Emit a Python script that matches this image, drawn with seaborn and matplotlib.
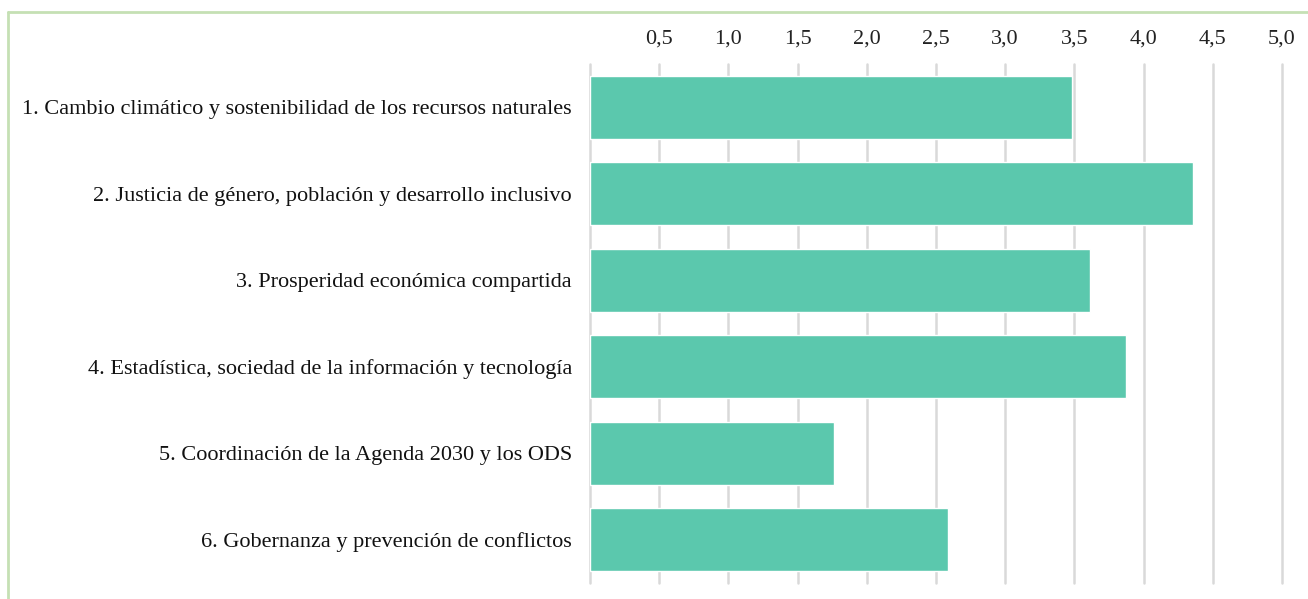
import matplotlib
matplotlib.use("Agg")
import matplotlib.pyplot as plt
import seaborn as sns
import pandas as pd
from matplotlib.lines import Line2D

categories = [
    "1. Cambio climático y sostenibilidad de los recursos naturales",
    "2. Justicia de género, población y desarrollo inclusivo",
    "3. Prosperidad económica compartida",
    "4. Estadística, sociedad de la información y tecnología",
    "5. Coordinación de la Agenda 2030 y los ODS",
    "6. Gobernanza y prevención de conflictos",
]
values = [3.48, 4.36, 3.61, 3.87, 1.76, 2.59]
tick_values = [0.5, 1.0, 1.5, 2.0, 2.5, 3.0, 3.5, 4.0, 4.5, 5.0]
tick_labels = ["0,5", "1,0", "1,5", "2,0", "2,5", "3,0", "3,5", "4,0", "4,5", "5,0"]

sns.set_theme(style="white")
plt.rcParams['font.family'] = ['Liberation Serif', 'DejaVu Serif']

df = pd.DataFrame({"cat": categories, "val": values})

fig = plt.figure(figsize=(13.08, 5.99), dpi=100)
ax = fig.add_axes([590/1308, 1-583/599, (1282-590)/1308, (583-64)/599])

sns.barplot(data=df, x="val", y="cat", orient="h", color="#5bc8ad",
            saturation=1, width=0.73, ax=ax, zorder=3)

ax.set_xlim(0, 5.0)
ax.set_ylim(5.5, -0.5)
ax.set_xticks([0.0] + tick_values)
ax.set_xticklabels([""] + tick_labels)
ax.xaxis.tick_top()
ax.tick_params(axis='x', length=0, pad=11, labelsize=16, colors="#222222")
ax.tick_params(axis='y', length=0, pad=13, labelsize=16, colors="#111111")
ax.grid(axis='x', color="#d9d9d9", linewidth=1.8, zorder=0)
for gl in ax.get_xgridlines():
    gl.set_clip_on(False)
ax.set_axisbelow(True)
for s in ax.spines.values():
    s.set_visible(False)
ax.set_xlabel("")
ax.set_ylabel("")

# light green frame (left and top edges visible)
fig.add_artist(Line2D([8/1308, 8/1308], [0, 1-12/599], transform=fig.transFigure,
                      color="#c5e0b4", linewidth=2))
fig.add_artist(Line2D([8/1308, 1], [1-12/599, 1-12/599], transform=fig.transFigure,
                      color="#c5e0b4", linewidth=2))

fig.savefig("out.png", dpi=100)
